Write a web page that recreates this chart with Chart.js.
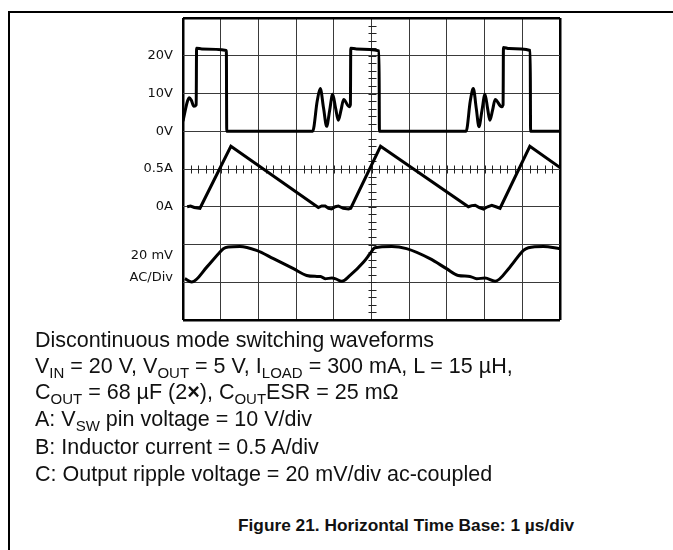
<!DOCTYPE html>
<html>
<head>
<meta charset="utf-8">
<script src="https://cdn.jsdelivr.net/npm/chart.js@4.4.0/dist/chart.umd.min.js"></script>
<style>
    body { margin: 0; background: #fff; width: 673px; height: 550px; overflow: hidden; position: relative; }
    #frame { position: absolute; left: 8px; top: 11px; width: 680px; height: 560px; border-top: 2px solid #000; border-left: 2px solid #000; }
    #scope { position: absolute; left: 0; top: 0; width: 673px; height: 330px; }
    .line { position: absolute; left: 35px; font-family: "Liberation Sans", Arial, sans-serif; font-size: 21.5px; line-height: 26px; color: #111; white-space: nowrap; }
    .line sub { font-size: 15px; vertical-align: -5px; line-height: 0; }
    .fig { font-weight: bold; font-size: 17.3px; line-height: 22px; left: 238px; }
</style>
</head>
<body>
<div id="frame"></div>
<div id="scope"><canvas id="chart"></canvas></div>

<div class="line" style="top:327px">Discontinuous mode switching waveforms</div>
<div class="line" style="top:353px">V<sub>IN</sub> = 20 V, V<sub>OUT</sub> = 5 V, I<sub>LOAD</sub> = 300 mA, L = 15 µH,</div>
<div class="line" style="top:379px">C<sub>OUT</sub> = 68 µF (2<b>×</b>), C<sub>OUT</sub>ESR = 25 mΩ</div>
<div class="line" style="top:406px">A: V<sub>SW</sub> pin voltage = 10 V/div</div>
<div class="line" style="top:434px">B: Inductor current = 0.5 A/div</div>
<div class="line" style="top:461px">C: Output ripple voltage = 20 mV/div ac-coupled</div>
<div class="line fig" style="top:514px">Figure 21. Horizontal Time Base: 1 µs/div</div>

<script>
// Channel A: switch pin voltage (time in us, volts)
const swTime = [0, 0.12, 0.17, 0.22, 0.29, 0.35, 0.36, 0.5, 1.15, 1.16, 3.44, 3.56, 3.64, 3.73, 3.81, 3.89, 3.97, 4.05, 4.12, 4.19, 4.26, 4.41, 4.44, 4.45, 4.6, 5.20, 5.21, 7.51, 7.62, 7.70, 7.78, 7.85, 7.93, 8.01, 8.08, 8.14, 8.21, 8.28, 8.45, 8.49, 8.50, 8.65, 9.21, 9.22, 10];
const swVolt = [2.7, 8.0, 8.9, 8.2, 6.6, 7.0, 22.0, 21.8, 21.4, 0, 0, 8.0, 11.3, 6.0, 1.3, 5.5, 9.8, 6.0, 2.9, 5.5, 8.4, 6.5, 7.0, 22.0, 21.8, 21.3, 0, 0, 8.0, 11.3, 6.0, 1.2, 5.5, 9.8, 6.0, 2.9, 5.5, 8.4, 6.5, 7.0, 22.2, 21.9, 21.4, 0, 0];

// Channel B: inductor current (time in us, amps)
const ilTime = [0.11, 0.2, 0.3, 0.45, 1.27, 3.59, 3.68, 3.77, 3.86, 3.94, 4.04, 4.12, 4.25, 4.39, 4.45, 5.24, 7.57, 7.66, 7.75, 7.86, 7.97, 8.08, 8.19, 8.30, 8.41, 9.20, 10];
const ilAmp = [0, 0.01, -0.01, -0.02, 0.80, -0.01, 0.01, 0.01, -0.02, -0.03, 0.0, 0.01, -0.02, -0.03, -0.02, 0.80, 0, 0.015, 0.02, -0.01, -0.03, 0.0, 0.02, 0.0, -0.02, 0.80, 0.52];

// Channel C: output ripple (time in us, mV ac-coupled)
const rpTime = [0.05, 0.23, 0.63, 0.94, 1.07, 1.2, 1.51, 1.95, 2.40, 2.93, 3.28, 3.55, 3.65, 3.77, 3.95, 4.05, 4.21, 4.43, 4.79, 4.96, 5.09, 5.54, 5.93, 6.55, 6.99, 7.30, 7.61, 7.79, 8.01, 8.28, 8.67, 9.03, 9.16, 9.56, 10];
const rpMv = [-8.1, -9.9, -2.0, 5.1, 7.8, 8.7, 9.0, 6.9, 2.5, -2.8, -6.4, -6.9, -7.0, -8.1, -7.8, -8.2, -9.5, -6.4, 0.7, 5.1, 8.3, 9.0, 7.8, 2.5, -2.8, -6.4, -6.9, -8.1, -7.8, -9.5, -2.0, 6.9, 8.3, 9.0, 7.8];

// Screen tick labels (in divisions from the bottom)
const tickPos = [7, 6, 5, 4, 3, 1.42];
const tickText = ["20V", "10V", "0V", "0.5A", "0A", ["20 mV", "AC/Div"]];

// channel offsets and scales (divisions)
const A_ZERO = 5, A_PER_DIV = 10;
const B_ZERO = 3, B_PER_DIV = 0.5;
const C_ZERO = 1.5, C_PER_DIV = 20;

function toDiv(times, vals, zero, perDiv) {
    return times.map((t, i) => ({ x: t, y: zero + vals[i] / perDiv }));
}

const edge = (ctx, lo, hi) => ctx.tick && (ctx.tick.value === lo || ctx.tick.value === hi);

// small tick marks along the two centre lines
const centreTicks = {
    id: "centreTicks",
    beforeDatasetsDraw(chart) {
        const { ctx, scales: { x, y } } = chart;
        const cx = Math.round(x.getPixelForValue(5)) + 0.5;
        const cy = Math.round(y.getPixelForValue(4)) + 0.5;
        ctx.save();
        ctx.strokeStyle = "#222";
        ctx.lineWidth = 1;
        ctx.beginPath();
        for (let i = 1; i < 50; i++) {
            const px = Math.round(x.getPixelForValue(i * 0.2)) + 0.5;
            ctx.moveTo(px, cy - 4);
            ctx.lineTo(px, cy + 4);
        }
        for (let j = 1; j < 40; j++) {
            const py = Math.round(y.getPixelForValue(j * 0.2)) + 0.5;
            ctx.moveTo(cx - 4, py);
            ctx.lineTo(cx + 4, py);
        }
        ctx.stroke();
        ctx.restore();
    }
};

const trace = { borderColor: "#000", borderWidth: 3, pointRadius: 0, fill: false };

new Chart(document.getElementById("chart"), {
    type: "line",
    data: {
        datasets: [
            { ...trace, label: "A", data: toDiv(swTime, swVolt, A_ZERO, A_PER_DIV), cubicInterpolationMode: "monotone" },
            { ...trace, label: "B", data: toDiv(ilTime, ilAmp, B_ZERO, B_PER_DIV), tension: 0 },
            { ...trace, label: "C", data: toDiv(rpTime, rpMv, C_ZERO, C_PER_DIV), cubicInterpolationMode: "monotone" }
        ]
    },
    options: {
        responsive: true,
        maintainAspectRatio: false,
        animation: false,
        layout: { padding: { top: 18, right: 113, bottom: 10, left: 0 } },
        plugins: { legend: { display: false }, tooltip: { enabled: false } },
        scales: {
            x: {
                type: "linear",
                min: 0,
                max: 10,
                ticks: { stepSize: 1, display: false },
                border: { display: false },
                grid: {
                    drawTicks: false,
                    color: ctx => edge(ctx, 0, 10) ? "#000" : "#3a3a3a",
                    lineWidth: ctx => edge(ctx, 0, 10) ? 2.5 : 1
                },
                afterFit: scale => {
                    scale.height = 0;
                    scale.paddingLeft = 0;
                    scale.paddingRight = 0;
                }
            },
            y: {
                type: "linear",
                min: 0,
                max: 8,
                border: { display: false },
                afterBuildTicks: scale => {
                    scale.ticks = [0, 1, 2, 3, 4, 5, 6, 7, 8, 1.42].map(v => ({ value: v }));
                },
                ticks: {
                    autoSkip: false,
                    padding: 10,
                    color: "#111",
                    font: { family: "DejaVu Sans", size: 13, lineHeight: 1.7 },
                    callback: v => {
                        const k = tickPos.indexOf(v);
                        return k < 0 ? "" : tickText[k];
                    }
                },
                grid: {
                    drawTicks: false,
                    color: ctx => ctx.tick && ctx.tick.value === 1.42 ? "rgba(0,0,0,0)" : (edge(ctx, 0, 8) ? "#000" : "#3a3a3a"),
                    lineWidth: ctx => edge(ctx, 0, 8) ? 2.5 : 1
                },
                afterFit: scale => {
                    scale.width = 183;
                    scale.paddingTop = 0;
                    scale.paddingBottom = 0;
                }
            }
        }
    },
    plugins: [centreTicks]
});
</script>
</body>
</html>
